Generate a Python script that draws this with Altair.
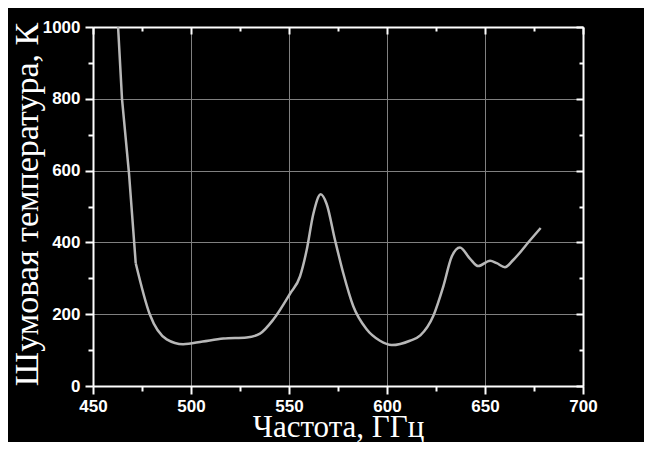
import altair as alt
import pandas as pd

freq = [462.8, 464.8, 468.4, 471.8, 479.0, 487.6, 496.0, 506.0, 516.5,
        528.4, 535.2, 542.0, 550.5, 555.6, 559.0, 562.4, 566.2, 569.2, 573.5,
        577.7, 582.8, 589.6, 596.4, 602.4, 611.7, 617.0, 623.6, 628.7, 633.0,
        637.2, 642.3, 646.6, 652.6, 656.0, 660.2, 664.4, 673.0, 678.4]
temp = [1000, 800, 590, 342, 199, 130, 116.5, 124, 132,
        135, 146, 185, 257, 305, 378, 479, 534, 507, 406,
        314, 222, 158, 126, 114, 126, 141, 195, 277, 360,
        386, 355, 334, 349, 342, 331, 351, 406, 440]

x_major_ticks = [450, 500, 550, 600, 650, 700]
x_minor_ticks = [475, 525, 575, 625, 675]
x_all_ticks = list(range(450, 701, 25))
y_major_ticks = [0, 200, 400, 600, 800, 1000]
y_minor_ticks = [100, 300, 500, 700, 900]
y_all_ticks = list(range(0, 1001, 100))

df = pd.DataFrame({"f": freq, "t": temp})

W, H = 490, 359
KINK = 471.8

xscale = alt.Scale(domain=[450, 700], nice=False, zero=False)
yscale = alt.Scale(domain=[0, 1000], nice=False)

x_major = "datum.value % 50 === 0"
y_major = "datum.value % 200 === 0"

line_color = "#b8b8b8"

main = alt.Chart(df).transform_filter(
    alt.datum.f >= KINK
).mark_line(
    color=line_color, strokeWidth=2.5, interpolate="monotone", clip=True
).encode(
    x=alt.X("f:Q", scale=xscale, axis=alt.Axis(
        values=x_major_ticks, orient="bottom",
        title="Частота, ГГц", titleFont="Liberation Serif", titleFontSize=31,
        titleFontWeight="normal", titleColor="white",
        titleX=W / 2, titleY=50, titleBaseline="alphabetic", titleAlign="center",
        labelFont="Liberation Sans", labelFontWeight="bold", labelFontSize=17,
        labelColor="white", labelPadding=4, labelFlush=False,
        domainColor="white", domainWidth=2,
        tickColor="white", tickWidth=2, tickSize=8,
        grid=True, gridColor="#808080", gridWidth=1,
    )),
    y=alt.Y("t:Q", scale=yscale, axis=alt.Axis(
        values=y_major_ticks, orient="left", format="d",
        title="Шумовая температура, К", titleFont="Liberation Serif", titleFontSize=34,
        titleFontWeight="normal", titleColor="white", titleAngle=270,
        titleX=-56, titleY=177, titleBaseline="alphabetic", titleAlign="center",
        labelFont="Liberation Sans", labelFontWeight="bold", labelFontSize=17,
        labelColor="white", labelPadding=5, labelFlush=False,
        domainColor="white", domainWidth=2,
        tickColor="white", tickWidth=2, tickSize=8,
        grid=True, gridColor="#808080", gridWidth=1,
    )),
)

steep = alt.Chart(df).transform_filter(
    alt.datum.f <= KINK
).mark_line(
    color=line_color, strokeWidth=2.5, interpolate="linear", clip=True
).encode(
    x=alt.X("f:Q", scale=xscale, axis=None),
    y=alt.Y("t:Q", scale=yscale, axis=None),
)

minor = alt.Chart(df).mark_point(opacity=0).encode(
    x=alt.X("f:Q", scale=xscale, axis=alt.Axis(
        values=x_minor_ticks, orient="bottom", labels=False, title=None,
        domain=False, tickColor="white", tickWidth=2, tickSize=5, grid=False,
    )),
    y=alt.Y("t:Q", scale=yscale, axis=alt.Axis(
        values=y_minor_ticks, orient="left", labels=False, title=None,
        domain=False, tickColor="white", tickWidth=2, tickSize=5, grid=False,
    )),
)

frame = alt.Chart(df).mark_point(opacity=0).encode(
    x=alt.X("f:Q", scale=xscale, axis=alt.Axis(
        values=x_all_ticks, orient="bottom", offset=-H, labels=False, title=None,
        domainColor="white", domainWidth=2, tickColor="white", tickWidth=2,
        tickSize={"condition": {"test": x_major, "value": 7}, "value": 4},
        grid=False,
    )),
    y=alt.Y("t:Q", scale=yscale, axis=alt.Axis(
        values=y_all_ticks, orient="left", offset=-W, labels=False, title=None,
        domainColor="white", domainWidth=2, tickColor="white", tickWidth=2,
        tickSize={"condition": {"test": y_major, "value": 7}, "value": 4},
        grid=False,
    )),
)

chart = alt.layer(main, steep, minor, frame).resolve_axis(
    x="independent", y="independent"
).properties(
    width=W, height=H,
    autosize=alt.AutoSizeParams(type="none"),
    padding={"left": 85, "top": 19, "right": 61, "bottom": 56},
).configure(background="black").configure_view(stroke=None)

chart.save("out.html", embed_options={"renderer": "svg", "actions": False})
